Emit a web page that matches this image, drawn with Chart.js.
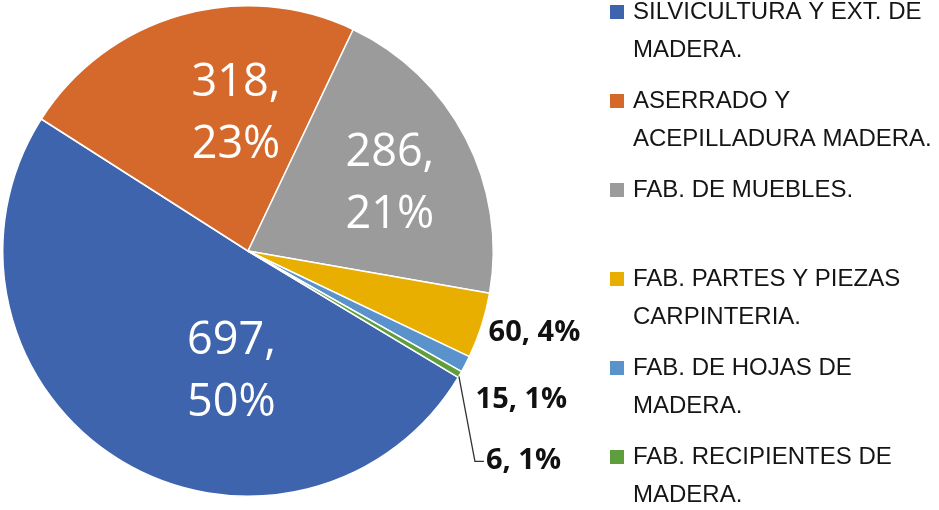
<!DOCTYPE html>
<html>
<head>
<meta charset="utf-8">
<script src="https://cdn.jsdelivr.net/npm/chart.js@4.4.0/dist/chart.umd.min.js"></script>
<style>
	html, body { margin: 0; padding: 0; background: #fff; }
	#chart { display: block; }
</style>
</head>
<body>
<canvas id="chart" width="939" height="510"></canvas>
<script>
var categories = [
	['SILVICULTURA Y EXT. DE', 'MADERA.'],
	['ASERRADO Y', 'ACEPILLADURA MADERA.'],
	['FAB. DE MUEBLES.'],
	['FAB. PARTES Y PIEZAS', 'CARPINTERIA.'],
	['FAB. DE HOJAS DE', 'MADERA.'],
	['FAB. RECIPIENTES DE', 'MADERA.']
];
var values = [697, 318, 286, 60, 15, 6];
var percents = ['50%', '23%', '21%', '4%', '1%', '1%'];
var colors = ['#3E64AE', '#D5692B', '#9B9B9B', '#E8AE00', '#5A92CC', '#5E9E3C'];

// where each value label sits: inside (radius fraction, angle shift in deg) or outside (offset from rim)
var labelPlacement = [
	{ inside: true, r: 0.50, shift: -24 },
	{ inside: true, r: 0.56, shift: 11 },
	{ inside: true, r: 0.64, shift: 2 },
	{ inside: false, dx: 7, dy: 7 },
	{ inside: false, dx: 10, dy: 36 },
	{ inside: false, dx: 26, dy: 86, leader: true }
];

const valueLabels = {
	id: 'valueLabels',
	afterDatasetsDraw(chart) {
		const ctx = chart.ctx;
		const arcs = chart.getDatasetMeta(0).data;
		ctx.save();
		arcs.forEach(function(arc, i) {
			const p = labelPlacement[i];
			const mid = (arc.startAngle + arc.endAngle) / 2;
			if (p.inside) {
				const a = mid + p.shift * Math.PI / 180;
				const rr = arc.outerRadius * p.r;
				const x = arc.x + Math.cos(a) * rr;
				const y = arc.y + Math.sin(a) * rr;
				ctx.fillStyle = '#ffffff';
				ctx.font = '45px "Open Sans"';
				ctx.textAlign = 'center';
				ctx.textBaseline = 'middle';
				ctx.fillText(values[i] + ',', x, y - 31);
				ctx.fillText(percents[i], x, y + 31);
			} else {
				const ex = arc.x + Math.cos(mid) * arc.outerRadius;
				const ey = arc.y + Math.sin(mid) * arc.outerRadius;
				const lx = ex + p.dx;
				const ly = ey + p.dy;
				if (p.leader) {
					ctx.strokeStyle = '#333333';
					ctx.lineWidth = 1.3;
					ctx.beginPath();
					ctx.moveTo(ex - 1, ey + 2);
					ctx.lineTo(lx - 11, ly + 1);
					ctx.lineTo(lx - 2, ly + 1);
					ctx.stroke();
				}
				ctx.fillStyle = '#111111';
				ctx.font = 'bold 29px "Open Sans"';
				ctx.textAlign = 'left';
				ctx.textBaseline = 'middle';
				ctx.fillText(values[i] + ', ' + percents[i], lx, ly);
			}
		});
		ctx.restore();
	}
};

const sideLegend = {
	id: 'sideLegend',
	afterDraw(chart) {
		const ctx = chart.ctx;
		const labels = chart.data.labels;
		const bg = chart.data.datasets[0].backgroundColor;
		ctx.save();
		ctx.font = '24px "Liberation Sans"';
		ctx.textAlign = 'left';
		ctx.textBaseline = 'middle';
		labels.forEach(function(lines, i) {
			const top = 12 + i * 89;
			ctx.fillStyle = bg[i];
			ctx.fillRect(610, top - 7, 14, 14);
			ctx.fillStyle = '#151515';
			lines.forEach(function(line, j) {
				ctx.fillText(line, 633, top + j * 38);
			});
		});
		ctx.restore();
	}
};

const ctx = document.getElementById('chart').getContext('2d');
const myChart = new Chart(ctx, {
	type: 'pie',
	data: {
		labels: categories,
		datasets: [{
			data: values,
			backgroundColor: colors,
			borderColor: '#ffffff',
			borderWidth: 1.5
		}]
	},
	options: {
		responsive: false,
		animation: false,
		rotation: 121,
		layout: {
			padding: { left: 2, right: 445, top: 5, bottom: 13 }
		},
		plugins: {
			legend: { display: false },
			tooltip: { enabled: false }
		}
	},
	plugins: [valueLabels, sideLegend]
});
</script>
</body>
</html>
